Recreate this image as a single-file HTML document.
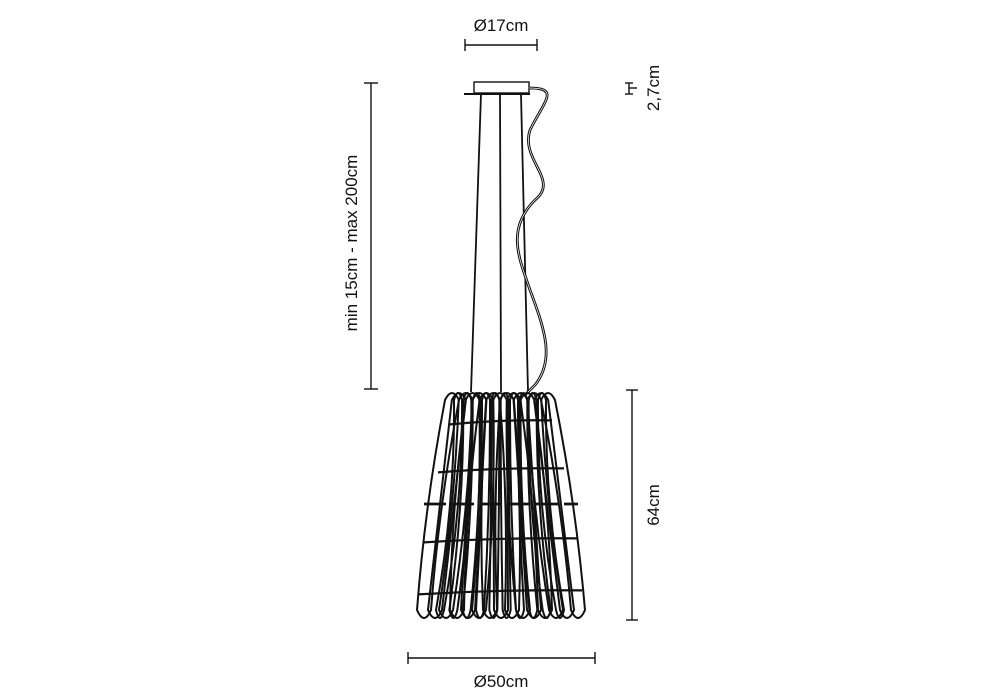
<!DOCTYPE html>
<html><head><meta charset="utf-8"><style>
html,body{margin:0;padding:0;background:#fff;}
svg{display:block;}
text{font-family:"Liberation Sans",sans-serif;font-size:17px;fill:#111;}
</style></head><body>
<svg id="s" width="1000" height="700" viewBox="0 0 1000 700" xmlns="http://www.w3.org/2000/svg">
<g stroke="#111" stroke-width="1.4" fill="none">
<line x1="465" y1="45" x2="537" y2="45"/><line x1="465" y1="39" x2="465" y2="51"/><line x1="537" y1="39" x2="537" y2="51"/>
<line x1="371" y1="83" x2="371" y2="389"/><line x1="364" y1="83" x2="378" y2="83"/><line x1="364" y1="389" x2="378" y2="389"/>
<line x1="629" y1="83" x2="629" y2="94"/><line x1="625" y1="83" x2="633" y2="83"/><line x1="625" y1="94" x2="633" y2="94"/><line x1="629" y1="88" x2="637" y2="88"/>
<line x1="632" y1="390" x2="632" y2="620"/><line x1="626" y1="390" x2="638" y2="390"/><line x1="626" y1="620" x2="638" y2="620"/>
<line x1="408" y1="658" x2="595" y2="658"/><line x1="408" y1="652" x2="408" y2="664"/><line x1="595" y1="652" x2="595" y2="664"/>
<rect x="474" y="82" width="55" height="11" fill="#fff"/>
<line x1="464" y1="94" x2="530" y2="94" stroke-width="2"/>
<g stroke-width="1.8">
<line x1="481" y1="94" x2="471" y2="392"/>
<line x1="500" y1="94" x2="501" y2="392"/>
<line x1="521" y1="94" x2="528" y2="392"/>
</g>
<path d="M529,88 C560,88 545,100 530,130 C520,160 560,180 535,200 C505,230 520,260 530,290 C545,330 555,360 535,385 L525,395" stroke-width="2.8"/>
<path d="M529,88 C560,88 545,100 530,130 C520,160 560,180 535,200 C505,230 520,260 530,290 C545,330 555,360 535,385 L525,395" stroke="#fff" stroke-width="0.7"/>
<g id="shade" stroke-width="2"></g>
<line x1="424" y1="504" x2="578" y2="504" stroke-width="2.8" stroke-dasharray="22,6"/>
</g>
<text x="501" y="31" text-anchor="middle">Ø17cm</text>
<text transform="translate(357,243) rotate(-90)" text-anchor="middle">min 15cm - max 200cm</text>
<text transform="translate(659,88) rotate(-90)" text-anchor="middle">2,7cm</text>
<text transform="translate(659,505) rotate(-90)" text-anchor="middle">64cm</text>
<text x="501" y="687" text-anchor="middle">Ø50cm</text>
</svg>
<script>
var g=document.getElementById('shade'),h='';
function strand(xt,xb,w,bend,fill){
 var my=505, mx=(xt+xb)/2+bend;
 return '<path d="M'+(xt-w)+',400 Q'+(mx-w)+','+my+' '+(xb-w)+',610 Q'+xb+',626 '+(xb+w)+',610 Q'+(mx+w)+','+my+' '+(xt+w)+',400 Q'+xt+',386 '+(xt-w)+',400 Z" fill="'+fill+'"/>';
}
/* back layer of strands, crossing */
for(var i=0;i<10;i++){
 var t=i/9;
 h+=strand(458+t*84,440+t*120,4,-(t-0.5)*20,'none');
}
var rings=[[422,450,552],[470,438,564],[540,424,577],[592,418,582]];
rings.forEach(function(r){
 var y=r[0];h+='<path d="M'+r[1]+','+(y+2)+' Q500,'+(y-3)+' '+r[2]+','+(y-2)+'" stroke-width="1.4"/>';
});
var n=15;
for(var i=0;i<n;i++){
 var t=i/(n-1);
 var xt=452+t*96, xb=424+t*154;
 h+=strand(xt,xb,7,(i%3-1)*6,'none');
}
rings.forEach(function(r){
 var y=r[0]+1;h+='<path d="M'+r[1]+','+(y+2)+' Q500,'+(y-3)+' '+r[2]+','+(y-2)+'" stroke-width="1"/>';
});
g.innerHTML=h;
</script>
</body></html>
